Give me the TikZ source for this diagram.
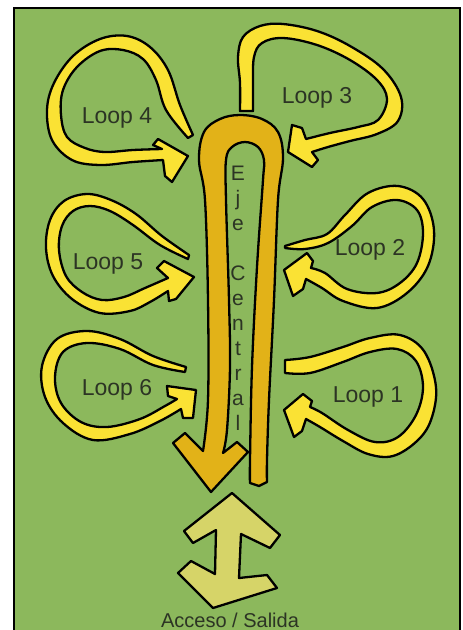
\documentclass[tikz,border=0pt]{standalone}
\usepackage{fontspec}
\setmainfont{Liberation Sans}
\definecolor{bg}{RGB}{140,184,92}
\definecolor{loopy}{RGB}{250,226,52}
\definecolor{axisy}{RGB}{226,178,24}
\definecolor{accy}{RGB}{214,212,104}
\definecolor{txt}{RGB}{44,52,36}
\begin{document}
\begin{tikzpicture}[x=1pt,y=-1pt,
  outl/.style={draw=black,line width=2.3pt,line join=round},
  loopband/.style={outl,fill=loopy},
  axisband/.style={outl,fill=axisy},
  accband/.style={outl,fill=accy},
  lbl/.style={text=txt,inner sep=0pt,anchor=base,font=\fontsize{23}{26}\selectfont},
  sm/.style={smooth,tension=0.6}]
\useasboundingbox (0,0) rectangle (463,630);
\fill[white] (0,0) rectangle (463,630);
\fill[bg] (14,8) rectangle (460,634);
\draw[line width=2pt] (14,634) -- (14,8) -- (460,8) -- (460,634);

% central axis
\filldraw[axisband] plot[sm] coordinates {(203,451) (208,400) (208,300) (205,200) (199,160) (204,132) (220,119) (240,115) (262,119) (278,132) (283,158) (278,200) (274,300) (269,400) (267,460) (267,482)}
  -- (259,486) -- (250,483)
  -- plot[sm] coordinates {(250,483) (250,460) (252,367) (257,267) (263,180) (264,160) (258,147) (245,142) (232,147) (226,160) (226,200) (229,300) (230,367) (227,430) (223,453)}
  -- (237,442) -- (248,452) -- (211,492) -- (173,443) -- (185,433) -- cycle;

% Loop 4
\filldraw[loopband] plot[sm] coordinates {(193,135) (180,105) (168,70) (150,47) (127,36) (100,39) (73,56) (54,83) (47,110) (52,140) (72,160) (100,165) (133,162) (163,160)}
  -- (165,176) -- (172,182) -- (188,156) -- (158,139) -- (153,145) -- (162,149)
  -- plot[sm] coordinates {(162,149) (133,150) (105,152) (85,148) (67,137) (61,115) (63,90) (77,67) (100,51) (123,50) (143,59) (156,80) (166,110) (188,138)} -- cycle;

% Loop 3
\filldraw[loopband] plot[sm] coordinates {(240,111) (240,83) (238,57) (243,37) (260,26) (283,24) (317,31) (350,46) (383,69) (401,97) (398,121) (377,134) (350,141) (328,147) (312,152)}
  -- (318,160) -- (312,167) -- (288,152) -- (292,125) -- (302,128) -- (306,139)
  -- plot[sm] coordinates {(306,139) (330,133) (358,127) (378,120) (387,99) (377,80) (350,60) (317,45) (283,38) (262,43) (254,57) (253,83) (253,111)} -- cycle;

% Loop 5
\filldraw[loopband] plot[sm] coordinates {(189,255) (162,236) (136,214) (111,200) (87,194) (64,201) (50,220) (46,248) (53,276) (72,299) (100,313) (130,311) (150,302) (168,291)}
  -- (169,301) -- (176,299) -- (194,277) -- (164,261) -- (157,268) -- (168,278)
  -- plot[sm] coordinates {(168,278) (145,288) (124,297) (102,300) (82,292) (66,276) (59,250) (62,226) (73,211) (90,206) (110,211) (133,225) (160,245) (188,259)} -- cycle;

% Loop 6
\filldraw[loopband] plot[sm] coordinates {(186,367) (153,356) (120,339) (87,331) (57,339) (42,366) (45,397) (63,423) (93,440) (130,434) (160,421) (181,409)}
  -- (183,418) -- (193,418) -- (196,390) -- (167,386) -- (168,396) -- (177,399)
  -- plot[sm] coordinates {(177,399) (165,406) (140,419) (107,427) (81,422) (61,403) (55,377) (63,352) (87,343) (120,349) (153,365) (185,372)} -- cycle;

% Loop 2
\filldraw[loopband] plot[sm] coordinates {(285,246) (305,240) (327,234) (345,215) (368,193) (398,186) (423,199) (434,230) (428,266) (407,293) (377,308) (343,301) (322,288) (306,279)}
  -- (303,289) -- (293,296) -- (284,270) -- (307,253) -- (313,261) -- (311,268)
  -- plot[sm] coordinates {(311,268) (325,273) (347,289) (377,293) (400,283) (417,263) (423,233) (417,210) (397,200) (372,207) (352,226) (328,243) (305,249) (285,248)} -- cycle;

% Loop 1
\filldraw[loopband] plot[sm] coordinates {(285,360) (310,357) (343,347) (370,338) (400,335) (424,351) (436,387) (431,420) (417,441) (393,456) (368,454) (343,441) (320,427) (306,419)}
  -- (302,431) -- (294,437) -- (284,410) -- (303,394) -- (312,401) -- (310,407)
  -- plot[sm] coordinates {(310,407) (322,413) (348,430) (375,442) (398,437) (416,415) (423,387) (416,361) (397,349) (370,352) (343,362) (310,373) (285,373)} -- cycle;

% Acceso / Salida double arrow
\filldraw[accband] (232,493) -- (280,535) -- (270,548) -- (241,534) -- (239,578) -- (267,575) -- (277,588) -- (213,608) -- (178,573) -- (191,561) -- (215,574) -- (216,530) -- (193,543) -- (184,531) -- cycle;

% labels
\node[lbl] (l4) at (117,123) {Loop 4};
\node[lbl] (l3) at (317,103) {Loop 3};
\node[lbl] (l5) at (108,269) {Loop 5};
\node[lbl] (l6) at (117,395) {Loop 6};
\node[lbl] (l2) at (370,255) {Loop 2};
\node[lbl] (l1) at (368,402) {Loop 1};
\node[text=txt,inner sep=0pt,anchor=north,align=center,font=\fontsize{21}{25}\selectfont] (eje) at (238,166) {E\\j\\e\\[25pt]C\\e\\n\\t\\r\\a\\l};
\node[text=txt,inner sep=0pt,anchor=base,font=\fontsize{20}{22}\selectfont] (acc) at (230,627) {Acceso / Salida};
\end{tikzpicture}
\end{document}
